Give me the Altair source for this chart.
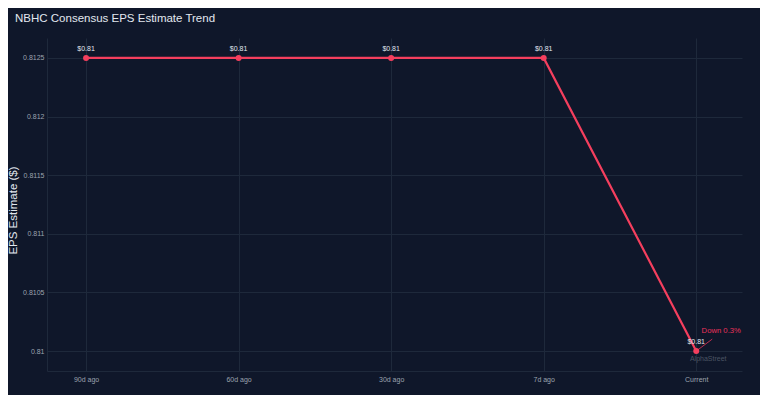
import altair as alt
import pandas as pd

periods = ["90d ago", "60d ago", "30d ago", "7d ago", "Current"]
eps = [0.8125, 0.8125, 0.8125, 0.8125, 0.81]
labels = ["$0.81", "$0.81", "$0.81", "$0.81", "$0.81"]
y_ticks = [0.81, 0.8105, 0.811, 0.8115, 0.812, 0.8125]
change_text = "Down 0.3%"
watermark = "AlphaStreet"

BG = "#0f172a"
GRID = "#1e293b"
RED = "#f43f5e"
TICK = "#9ca3af"
FONT = "Liberation Sans"

df = pd.DataFrame({"idx": list(range(len(periods))), "period": periods,
                   "eps": eps, "label": labels})
last = df.tail(1).assign(note=change_text, wm=watermark)

label_expr = "[" + ",".join(f"'{p}'" for p in periods) + "][datum.value]"

x = alt.X("idx:Q",
          scale=alt.Scale(domain=[-0.256, 4.30], nice=False, zero=False),
          axis=alt.Axis(values=list(range(len(periods))), labelExpr=label_expr,
                        title=None, grid=True, gridColor=GRID, domainColor=GRID,
                        ticks=False, labelColor=TICK, labelFontSize=7,
                        labelPadding=4, labelFont=FONT))
y = alt.Y("eps:Q",
          scale=alt.Scale(domain=[0.80983, 0.81267], nice=False, zero=False),
          axis=alt.Axis(values=y_ticks, format="~g", title="EPS Estimate ($)",
                        grid=True, gridColor=GRID, domainColor=GRID, ticks=False,
                        labelColor=TICK, labelFontSize=7, labelPadding=3,
                        labelFont=FONT, titleColor="#e2e8f0", titleFontSize=11.5,
                        titleFontWeight="normal", titleFont=FONT, titleX=-34,
                        titleY=172, titleAngle=-90, titleBaseline="middle"))

base = alt.Chart(df)
line = base.mark_line(color=RED, strokeWidth=2.2).encode(x=x, y=y)
pts = base.mark_circle(color=RED, size=36, opacity=1).encode(x=x, y=y)
txt = base.mark_text(color="#e2e8f0", fontSize=7, dy=-9, font=FONT).encode(
    x=x, y=y, text="label:N")

lb = alt.Chart(last)
arrow = lb.mark_rule(color="#e8325a", strokeWidth=0.8, x2Offset=16, y2Offset=-12).encode(
    x=x, y=y, x2="idx:Q", y2="eps:Q")
note = lb.mark_text(color="#e8325a", fontSize=7.7, dx=25, dy=-20, font=FONT).encode(
    x=x, y=y, text="note:N")
wm = lb.mark_text(color="#4b5563", fontSize=7, dx=12, dy=8, font=FONT).encode(
    x=x, y=y, text="wm:N")

chart = alt.layer(line, arrow, pts, txt, note, wm).properties(
    width=695, height=333,
    title=alt.TitleParams("NBHC Consensus EPS Estimate Trend", anchor="start",
                          frame="group", color="#e2e8f0", fontSize=11.5,
                          fontWeight="normal", font=FONT, dx=-32, offset=14),
    autosize=alt.AutoSizeParams(type="none"),
    padding={"left": 39, "top": 30, "right": 18, "bottom": 24},
    background=BG,
).configure_view(stroke=None)

chart.save("out.html", embed_options={"renderer": "svg", "actions": False})
